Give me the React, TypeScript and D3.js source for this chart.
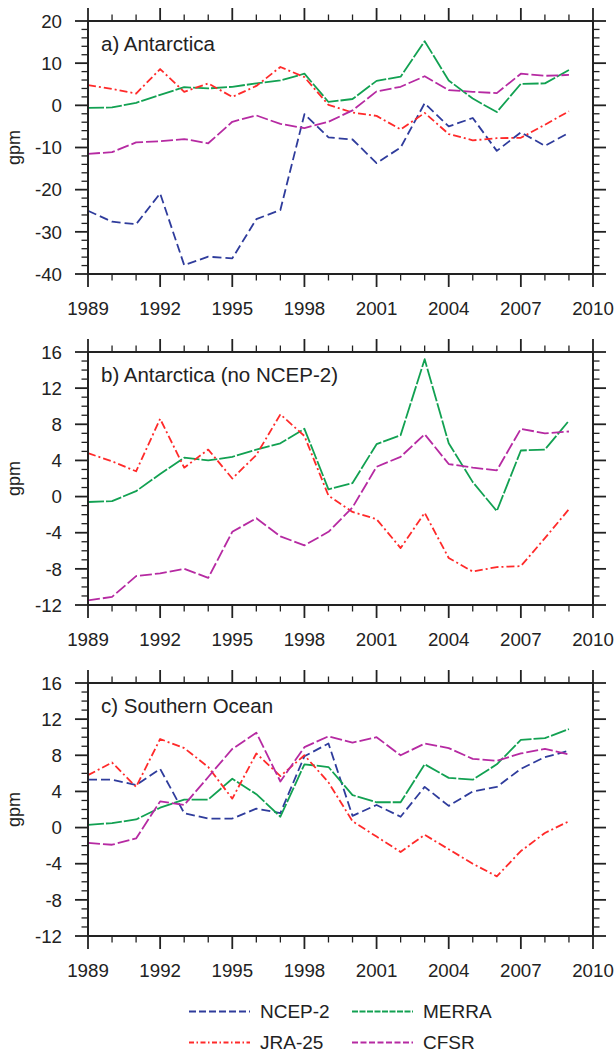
import React from "react";
import * as d3 from "d3";

const YEARS = [1989, 1990, 1991, 1992, 1993, 1994, 1995, 1996, 1997, 1998, 1999, 2000, 2001, 2002, 2003, 2004, 2005, 2006, 2007, 2008, 2009];
const X_TICKS = [1989, 1992, 1995, 1998, 2001, 2004, 2007, 2010];

// Antarctica
const ANT_NCEP2 = [-25.0, -27.6, -28.2, -20.9, -37.9, -35.9, -36.3, -27.0, -24.8, -2.1, -7.6, -8.1, -13.7, -10.0, 0.5, -5.0, -3.0, -10.8, -6.4, -9.6, -6.5];
const ANT_MERRA = [-0.6, -0.5, 0.6, 2.5, 4.3, 4.0, 4.4, 5.2, 5.9, 7.5, 0.8, 1.5, 5.8, 6.8, 15.2, 5.9, 1.6, -1.6, 5.1, 5.2, 8.4];
const ANT_JRA25 = [4.8, 3.9, 2.8, 8.6, 3.2, 5.2, 2.0, 4.6, 9.1, 6.7, 0.1, -1.7, -2.5, -5.7, -1.8, -6.8, -8.3, -7.8, -7.7, -4.6, -1.4];
const ANT_CFSR = [-11.5, -11.1, -8.8, -8.5, -8.0, -9.0, -3.9, -2.4, -4.4, -5.4, -3.9, -1.2, 3.3, 4.4, 6.9, 3.6, 3.2, 2.9, 7.5, 7.0, 7.2];

// Southern Ocean
const SO_NCEP2 = [5.3, 5.3, 4.7, 6.5, 1.6, 1.0, 1.0, 2.1, 1.6, 7.9, 9.3, 1.3, 2.5, 1.2, 4.5, 2.4, 4.0, 4.5, 6.5, 7.8, 8.5];
const SO_MERRA = [0.3, 0.5, 0.9, 2.2, 3.1, 3.1, 5.4, 3.7, 1.2, 7.0, 6.7, 3.6, 2.8, 2.8, 7.0, 5.5, 5.3, 7.0, 9.7, 9.9, 10.9];
const SO_JRA25 = [5.8, 7.2, 4.5, 9.8, 8.8, 6.7, 3.2, 8.2, 5.7, 8.0, 5.0, 0.7, -1.0, -2.7, -0.8, -2.4, -4.0, -5.4, -2.6, -0.6, 0.7];
const SO_CFSR = [-1.7, -1.9, -1.2, 2.9, 2.5, 5.6, 8.7, 10.5, 5.1, 8.9, 10.1, 9.4, 10.0, 8.0, 9.3, 8.8, 7.6, 7.4, 8.2, 8.7, 8.1];

const Y_TICKS_A = [20, 10, 0, -10, -20, -30, -40];
const Y_TICKS_BC = [16, 12, 8, 4, 0, -4, -8, -12];

const SERIES_NAMES = ["NCEP-2", "MERRA", "JRA-25", "CFSR"];
const COLORS: Record<string, string> = {
  "NCEP-2": "#2f3c9c",
  MERRA: "#12a152",
  "JRA-25": "#ff2a2a",
  CFSR: "#b62aa2",
};
const DASH: Record<string, string> = {
  "NCEP-2": "9,4",
  MERRA: "16,2",
  "JRA-25": "8,3,2,3",
  CFSR: "12,3",
};
const LEG_DASH: Record<string, string> = {
  "NCEP-2": "7,3",
  MERRA: "6,1.5",
  "JRA-25": "5,2.5,1.5,2.5",
  CFSR: "6,2.5",
};

const FONT = "'Liberation Sans', Arial, Helvetica, sans-serif";
const LEFT = 88;
const RIGHT = 593;
const AXIS = "#222";

type Series = { name: string; values: number[] };

function Panel({
  top,
  bottom,
  yMin,
  yMax,
  yMajor,
  yMinorStep,
  title,
  series,
}: {
  top: number;
  bottom: number;
  yMin: number;
  yMax: number;
  yMajor: number[];
  yMinorStep: number;
  title: string;
  series: Series[];
}) {
  const x = d3.scaleLinear().domain([1989, 2010]).range([LEFT, RIGHT]);
  const y = d3.scaleLinear().domain([yMin, yMax]).range([bottom, top]);
  const line = d3
    .line<number>()
    .x((_, i) => x(YEARS[i]))
    .y((d) => y(d));
  const xMinor = d3.range(1989, 2011, 1).filter((v) => !X_TICKS.includes(v));
  const yMinor = d3
    .range(yMin, yMax + 0.001, yMinorStep)
    .filter((v) => !yMajor.some((m) => Math.abs(m - v) < 1e-6));
  const MJ = 13;
  const MN = 6.5;
  return (
    <g>
      {series.map((s) => (
        <path
          key={s.name}
          d={line(s.values) || ""}
          fill="none"
          stroke={COLORS[s.name]}
          strokeWidth={1.8}
          strokeDasharray={DASH[s.name]}
          strokeLinejoin="round"
        />
      ))}
      <rect x={LEFT} y={top} width={RIGHT - LEFT} height={bottom - top} fill="none" stroke={AXIS} strokeWidth={2} />
      {X_TICKS.map((t) => (
        <g key={"xm" + t}>
          <line x1={x(t)} x2={x(t)} y1={top} y2={top - MJ} stroke={AXIS} strokeWidth={1.8} />
          <line x1={x(t)} x2={x(t)} y1={bottom} y2={bottom + MJ} stroke={AXIS} strokeWidth={1.8} />
          <text x={x(t)} y={bottom + 41} textAnchor="middle" fontFamily={FONT} fontSize={18.7} fill="#222">
            {t}
          </text>
        </g>
      ))}
      {xMinor.map((t) => (
        <g key={"xn" + t}>
          <line x1={x(t)} x2={x(t)} y1={top} y2={top - MN} stroke={AXIS} strokeWidth={1.3} />
          <line x1={x(t)} x2={x(t)} y1={bottom} y2={bottom + MN} stroke={AXIS} strokeWidth={1.3} />
        </g>
      ))}
      {yMajor.map((t) => (
        <g key={"ym" + t}>
          <line x1={LEFT} x2={LEFT - MJ} y1={y(t)} y2={y(t)} stroke={AXIS} strokeWidth={1.8} />
          <line x1={RIGHT} x2={RIGHT + MJ} y1={y(t)} y2={y(t)} stroke={AXIS} strokeWidth={1.8} />
          <text x={62} y={y(t)} dy="0.36em" textAnchor="end" fontFamily={FONT} fontSize={18.7} fill="#222">
            {t}
          </text>
        </g>
      ))}
      {yMinor.map((t) => (
        <g key={"yn" + t}>
          <line x1={LEFT} x2={LEFT - MN} y1={y(t)} y2={y(t)} stroke={AXIS} strokeWidth={1.3} />
          <line x1={RIGHT} x2={RIGHT + MN} y1={y(t)} y2={y(t)} stroke={AXIS} strokeWidth={1.3} />
        </g>
      ))}
      <text x={101} y={top + 29.5} fontFamily={FONT} fontSize={20.5} fill="#222">
        {title}
      </text>
      <text
        transform={`translate(19.5,${(top + bottom) / 2}) rotate(-90)`}
        textAnchor="middle"
        fontFamily={FONT}
        fontSize={18}
        fill="#222"
      >
        gpm
      </text>
    </g>
  );
}

export default function App() {
  const antAll: Series[] = [
    { name: "NCEP-2", values: ANT_NCEP2 },
    { name: "MERRA", values: ANT_MERRA },
    { name: "JRA-25", values: ANT_JRA25 },
    { name: "CFSR", values: ANT_CFSR },
  ];
  const antNo: Series[] = antAll.slice(1);
  const so: Series[] = [
    { name: "NCEP-2", values: SO_NCEP2 },
    { name: "MERRA", values: SO_MERRA },
    { name: "JRA-25", values: SO_JRA25 },
    { name: "CFSR", values: SO_CFSR },
  ];
  const legendPos = [
    { x: 189, y: 1011.5 },
    { x: 352, y: 1011.5 },
    { x: 189, y: 1042.5 },
    { x: 352, y: 1042.5 },
  ];
  return (
    <svg width={615} height={1050} style={{ position: "absolute", left: 0, top: 0, background: "#fff" }}>
      <rect width={615} height={1050} fill="#fff" />
      <Panel top={21} bottom={274} yMin={-40} yMax={20} yMajor={Y_TICKS_A} yMinorStep={2} title="a) Antarctica" series={antAll} />
      <Panel top={352} bottom={605} yMin={-12} yMax={16} yMajor={Y_TICKS_BC} yMinorStep={1} title="b) Antarctica (no NCEP-2)" series={antNo} />
      <Panel top={683} bottom={936} yMin={-12} yMax={16} yMajor={Y_TICKS_BC} yMinorStep={1} title="c) Southern Ocean" series={so} />
      {SERIES_NAMES.map((n, i) => (
        <g key={n}>
          <line
            x1={legendPos[i].x}
            x2={legendPos[i].x + 61}
            y1={legendPos[i].y}
            y2={legendPos[i].y}
            stroke={COLORS[n]}
            strokeWidth={1.8}
            strokeDasharray={LEG_DASH[n]}
          />
          <text x={legendPos[i].x + 71} y={legendPos[i].y} dy="0.36em" fontFamily={FONT} fontSize={19} fill="#222">
            {n}
          </text>
        </g>
      ))}
    </svg>
  );
}
